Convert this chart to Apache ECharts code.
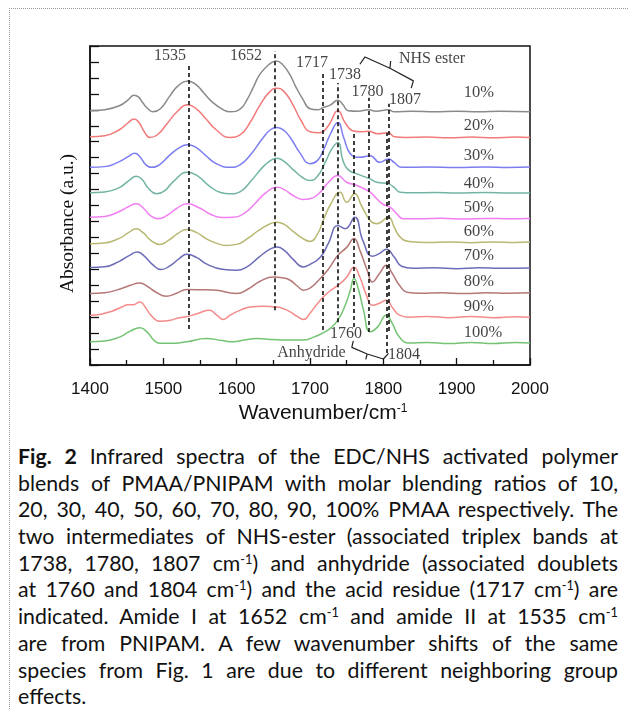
<!DOCTYPE html>
<html>
<head>
<meta charset="utf-8">
<script src="https://cdn.jsdelivr.net/npm/echarts@6/dist/echarts.min.js"></script>
<style>
  html, body { margin: 0; padding: 0; background: #fff; }
  #page { position: relative; width: 628px; height: 709px; overflow: hidden; background: #fff; }
  #frame { position: absolute; left: 9px; top: 8px; width: 800px; height: 900px;
           border-top: 1px dotted #999; border-left: 1px dotted #999; }
  #chart { position: absolute; left: 0; top: 0; width: 628px; height: 440px; }
  #caption { position: absolute; left: 18px; top: 443px; width: 600px;
             font-family: Lato, "Noto Sans", sans-serif; font-size: 21.3px; color: #111;
             line-height: 26.7px; }
  #caption .ln { text-align: justify; text-align-last: justify; white-space: nowrap; height: 26.7px; }
  #caption .ln.last { text-align-last: left; }
  #caption sup { font-size: 0.6em; line-height: 0; vertical-align: 0.55em; }
</style>
</head>
<body>
<div id="page">
  <div id="frame"></div>
  <div id="chart"></div>
  <div id="caption">
    <div class="ln"><b>Fig. 2</b> Infrared spectra of the EDC/NHS activated polymer</div>
    <div class="ln">blends of PMAA/PNIPAM with molar blending ratios of 10,</div>
    <div class="ln">20, 30, 40, 50, 60, 70, 80, 90, 100% PMAA respectively. The</div>
    <div class="ln">two intermediates of NHS-ester (associated triplex bands at</div>
    <div class="ln">1738, 1780, 1807 cm<sup>-1</sup>) and anhydride (associated doublets</div>
    <div class="ln">at 1760 and 1804 cm<sup>-1</sup>) and the acid residue (1717 cm<sup>-1</sup>) are</div>
    <div class="ln">indicated. Amide I at 1652 cm<sup>-1</sup> and amide II at 1535 cm<sup>-1</sup></div>
    <div class="ln">are from PNIPAM. A few wavenumber shifts of the same</div>
    <div class="ln">species from Fig. 1 are due to different neighboring group</div>
    <div class="ln last">effects.</div>
  </div>
</div>
<script>
// ---- Data (wavenumber cm^-1, absorbance in arbitrary stacked units) ----
const seriesNames = ['10%', '20%', '30%', '40%', '50%', '60%', '70%', '80%', '90%', '100%'];
const seriesColors = ['#8a8a8a', '#f27a7a', '#7d7df2', '#72b4a4', '#f27ef2',
                      '#b8b872', '#6c6cb8', '#b47878', '#f48a8a', '#74c474'];

const s10 = [[1400,255],[1420,256],[1440,260],[1452,266],[1460,270.7],[1466,269],[1472,263],[1479,257],[1486,254],[1496,257],[1509,270],[1520,280],[1533,285],[1545,281],[1555,273],[1568,263],[1582,256],[1591,254],[1605,257],[1614,266],[1623,279],[1632,292],[1645,302],[1654,305],[1663,301],[1672,292],[1680,280],[1690,267],[1700,257],[1710,256],[1718,258.3],[1728,261],[1738,265.7],[1745,261],[1752,255],[1765,254.5],[1780,256],[1790,254.5],[1807,256],[1815,254],[1840,254.5],[1870,254],[1900,254.6],[1930,254],[1960,254.5],[2000,254]];
const s20 = [[1400,229],[1420,230],[1440,236],[1452,243],[1460,246.7],[1467,243],[1474,234],[1482,228.3],[1492,231],[1505,242],[1520,255],[1533,261],[1545,257],[1558,247],[1572,236],[1591,228.3],[1605,231],[1618,243],[1632,261],[1645,274],[1655,277.7],[1665,274],[1676,262],[1688,245],[1700,234],[1712,233],[1725,240],[1738,255],[1748,243],[1758,235],[1770,234],[1780,234.5],[1792,232],[1807,233],[1815,229],[1830,228.3],[1860,228.6],[1890,228],[1920,228.6],[1950,228],[1980,228.6],[2000,228.3]];
const s30 = [[1400,198.3],[1420,199],[1440,204],[1452,209],[1461,212.3],[1468,209],[1476,201],[1484,198.3],[1495,201],[1508,210],[1520,217],[1533,221],[1545,218],[1558,210],[1572,202],[1591,198.3],[1605,201],[1620,212],[1635,227],[1646,236],[1655,238.3],[1665,235],[1675,226],[1686,213],[1700,202],[1710,205],[1718,215],[1728,232],[1738,243.3],[1746,228],[1755,212],[1768,208.3],[1782,210],[1795,203.3],[1807,206.7],[1815,203],[1825,198.3],[1860,198.6],[1900,198],[1940,198.6],[1970,198.2],[2000,198.5]];
const s40 = [[1400,172.7],[1420,173.5],[1440,178],[1453,185],[1463,189.3],[1471,186],[1480,177],[1491,171.7],[1502,175],[1515,185],[1533,193.3],[1548,189],[1562,180],[1578,173],[1591,171.7],[1605,174],[1620,185],[1635,198],[1647,205.5],[1655,207.3],[1665,204],[1677,196],[1690,188],[1700,185],[1710,189],[1720,202],[1730,217],[1738,223.3],[1745,205],[1752,196],[1764,191.7],[1782,186.7],[1791,183.3],[1807,181.7],[1815,178],[1823,173.3],[1840,172.7],[1870,173.1],[1900,172.5],[1940,173],[1970,172.6],[2000,172.5]];
const s50 = [[1400,148.3],[1420,149],[1440,154],[1453,159],[1463,161.7],[1472,158],[1482,150],[1493,146.7],[1505,150],[1518,157],[1533,161.7],[1548,158],[1565,151],[1580,148],[1595,148.3],[1610,152],[1625,162],[1640,173],[1655,178.3],[1665,176],[1677,170],[1690,166],[1700,166.7],[1712,172],[1725,183],[1738,190],[1750,183.3],[1764,180],[1782,173.3],[1791,166.7],[1800,161],[1809,158.3],[1818,152],[1827,146.7],[1850,146.7],[1880,147.1],[1910,146.5],[1940,147],[1970,146.7],[2000,147]];
const s60 = [[1400,121.7],[1420,122.5],[1440,127],[1453,133],[1463,136.7],[1472,133],[1483,125],[1495,121],[1507,125],[1520,132],[1532,136],[1545,133],[1560,126],[1575,121.5],[1586,120],[1600,121],[1615,127],[1630,135],[1645,141.5],[1655,143.3],[1665,141],[1677,134],[1690,127],[1700,124],[1710,131],[1718,145],[1728,161],[1741,173.3],[1750,163.3],[1761,171.7],[1770,160],[1782,145],[1791,141.7],[1807,148.3],[1815,138],[1823,128.3],[1835,124],[1860,123],[1890,123.5],[1920,122.6],[1950,123.5],[1980,123],[2000,123.4]];
const s70 = [[1400,97.7],[1420,98.5],[1440,104],[1454,110],[1464.5,113.3],[1473,110],[1485,101],[1497,95.7],[1510,100],[1522,107],[1532,111],[1545,108],[1560,101],[1580,96],[1600,95],[1615,99],[1630,108],[1645,116],[1655,118.3],[1665,115],[1677,106],[1691,98.3],[1700,101],[1714,108],[1725,122],[1738,140],[1748,136.7],[1761,148.3],[1772,125],[1785,109],[1795,112],[1804,116],[1815,108],[1825,99],[1840,97],[1870,97.5],[1900,96.6],[1930,97.5],[1960,97],[2000,97.4]];
const s80 = [[1400,71.7],[1420,72.5],[1440,76],[1455,80],[1468,82.3],[1478,79],[1490,73],[1504,69],[1518,72],[1532,75.7],[1550,75.5],[1573,75],[1590,72.5],[1600,71.7],[1615,76],[1632,84],[1650,88.3],[1662,87.5],[1673,85],[1683,79],[1691,75],[1700,77],[1714,86.7],[1725,96],[1738,110],[1750,118],[1760,127],[1768,115],[1778,95],[1785,83.3],[1795,92],[1804,100],[1812,92],[1822,80],[1832,73],[1850,72],[1880,72.5],[1910,71.6],[1940,72.5],[1970,72],[2000,72.4]];
const s90 = [[1400,50],[1415,51],[1430,54],[1443,58],[1452,60.5],[1459,60.5],[1468,63.3],[1475,58.5],[1483,50],[1495,44],[1510,45],[1522,47.5],[1532,48.3],[1548,52],[1563,55],[1573,50],[1582,45.7],[1591,50],[1605,55],[1618,58.3],[1635,59],[1650,58.3],[1662,57],[1673,53.3],[1682,49],[1691,45.7],[1700,52],[1714,65],[1725,73],[1741,81.7],[1750,88],[1760,98],[1768,88],[1777,70],[1785,60],[1795,62],[1804,65],[1812,58],[1822,50],[1835,48],[1860,48.6],[1890,47.5],[1920,48.6],[1950,47.5],[1980,48.5],[2000,48]];
const s100 = [[1400,23.3],[1420,24],[1440,28],[1455,34],[1468,37.3],[1478,33],[1487,25],[1495,21.7],[1510,21.7],[1532,23.3],[1558,26.7],[1580,24.5],[1595,23.3],[1610,25],[1627,26.7],[1650,25.5],[1673,25],[1691,25],[1705,28],[1717,32],[1728,37],[1738,45],[1748,60],[1755,75],[1760,86.7],[1766,76],[1773,55],[1782,33.3],[1792,38],[1804,50],[1812,42],[1822,28],[1835,22],[1860,22.6],[1890,21.5],[1920,22.6],[1950,21.5],[1980,22.5],[2000,22]];
const spectra = [s10, s20, s30, s40, s50, s60, s70, s80, s90, s100];

// percentage label anchor (left edge wavenumber, level)
const pctLabelX = 1909;
const pctLabelY = [273.3, 240, 210, 181.7, 158.3, 133.3, 110, 83.3, 58.3, 32.3];

// dashed marker lines: [wavenumber, from, to]
const peakLines = [[1535,36,303],[1652,55,315],[1717,35,295],[1738,43,283],[1760,38,232],[1780,33,268],[1804,12,233],[1807,34,262]];

// annotation texts: [text, wavenumber, level]
const annotations = [['1535',1509,310],['1652',1612.7,310],['1717',1702.7,303],['1738',1747.7,291.5],
  ['1780',1778.4,274.3],['1807',1829.5,266],['NHS ester',1866.4,307],['1760',1749,31],['1804',1828.2,10],['Anhydride',1702,12]];

// bracket polylines
const nhsBracket = [[1768,301.7],[1775,309],[1809,297.7],[1841,285],[1838,277.7]];
const nhsPointer = [[1809,297.7],[1810,305]];
const anhBracket = [[1759,24.3],[1757,17.7],[1778,11],[1800,6],[1807,11.7]];
const anhPointer = [[1778,11],[1776,5.7]];

const xTicks = {min: 1400, max: 2000, interval: 100};

// ---- Chart ----
const chart = echarts.init(document.getElementById('chart'), null, {renderer: 'canvas'});
const serif = 'Liberation Serif, Times New Roman, serif';
const sans = 'Liberation Sans, Arial, sans-serif';

const series = [];
spectra.forEach((d, i) => {
  series.push({
    name: seriesNames[i], type: 'line', data: d, showSymbol: false, symbol: 'none',
    smooth: 0.5,
    lineStyle: {color: seriesColors[i], width: 1.5}, z: 2, silent: true
  });
});
series.push({
  type: 'line', data: [], silent: true, z: 5,
  markLine: {
    silent: true, symbol: ['none', 'none'], animation: false,
    label: {show: false},
    lineStyle: {color: '#111', width: 1.6, type: [4, 3]},
    emphasis: {disabled: true},
    data: peakLines.map(p => [{coord: [p[0], p[1]]}, {coord: [p[0], p[2]]}])
  }
});
[nhsBracket, nhsPointer, anhBracket, anhPointer].forEach(b => {
  series.push({type: 'line', data: b, symbol: 'none', smooth: false, silent: true, z: 6,
    lineStyle: {color: '#222', width: 1.2}});
});
series.push({
  type: 'scatter', symbol: 'circle', symbolSize: 1, silent: true, z: 7,
  itemStyle: {color: 'rgba(0,0,0,0)'},
  label: {show: true, position: 'inside', formatter: '{b}', color: '#111',
          fontFamily: serif, fontSize: 16},
  data: annotations.map(a => ({name: a[0], value: [a[1], a[2]]}))
});
series.push({
  type: 'scatter', symbol: 'circle', symbolSize: 1, silent: true, z: 7,
  itemStyle: {color: 'rgba(0,0,0,0)'},
  label: {show: true, position: 'right', distance: 0, formatter: '{b}', color: '#111',
          fontFamily: serif, fontSize: 16.5},
  data: seriesNames.map((n, i) => ({name: n, value: [pctLabelX, pctLabelY[i]]}))
});

chart.setOption({
  animation: false,
  backgroundColor: 'transparent',
  grid: {left: 90, right: 98, top: 46, bottom: 75, containLabel: false, outerBoundsMode: 'none',
         show: true, borderColor: '#111', borderWidth: 1.5, backgroundColor: 'transparent'},
  xAxis: {
    type: 'value', min: xTicks.min, max: xTicks.max, interval: xTicks.interval,
    axisLine: {show: true, onZero: false, lineStyle: {color: '#111', width: 1.5}},
    axisTick: {show: true, inside: true, length: 7, lineStyle: {color: '#111', width: 1.3}},
    minorTick: {show: true, splitNumber: 2, length: 5, lineStyle: {color: '#111', width: 1.3}},
    splitLine: {show: false}, minorSplitLine: {show: false},
    axisLabel: {show: true, margin: 16, color: '#111', fontFamily: sans, fontSize: 17,
                formatter: v => String(v)},
    name: '{a|Wavenumber/cm}{b|-1}', nameLocation: 'middle', nameGap: 36,
    nameTextStyle: {padding: [0, 0, 0, 26], rich: {
      a: {fontFamily: sans, fontSize: 21, color: '#111'},
      b: {fontFamily: sans, fontSize: 12, color: '#111', verticalAlign: 'top'}
    }}
  },
  yAxis: {
    type: 'value', min: 0, max: 320, interval: 16,
    axisLine: {show: true, onZero: false, lineStyle: {color: '#111', width: 1.5}},
    axisTick: {show: true, inside: true, length: 9, lineStyle: {color: '#111', width: 1.3}},
    splitLine: {show: false},
    axisLabel: {show: false},
    name: 'Absorbance (a.u.)', nameLocation: 'middle', nameGap: 12,
    nameTextStyle: {fontFamily: serif, fontSize: 19.5, color: '#111', padding: [0, 36, 0, 0]}
  },
  series: series
});
</script>
</body>
</html>
